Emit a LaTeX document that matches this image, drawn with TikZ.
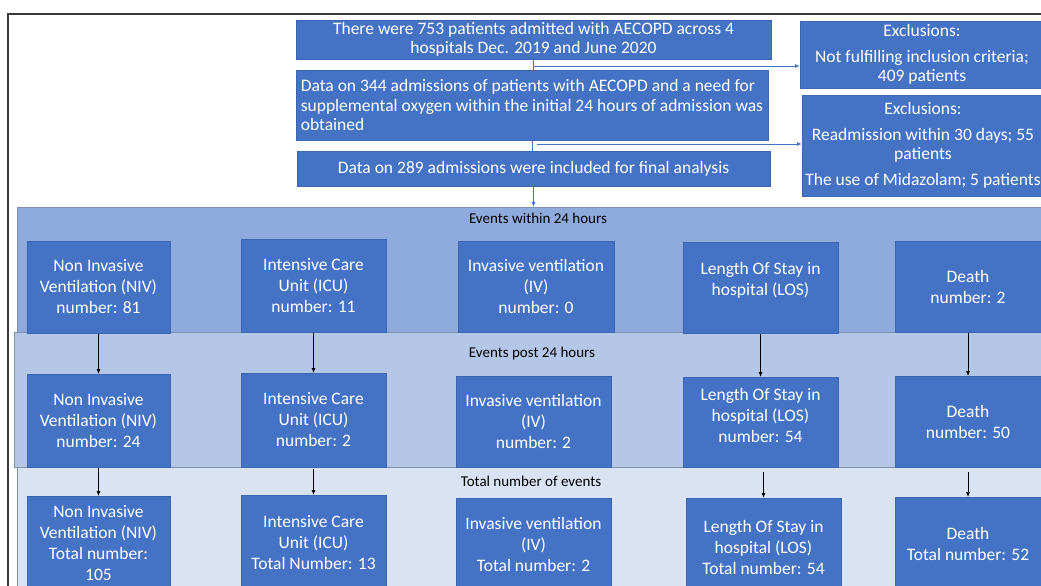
\documentclass[tikz,border=0pt]{standalone}
\usepackage{fontspec}
\setmainfont{Carlito}
\usepackage{tikz}
\usetikzlibrary{arrows.meta}
\definecolor{boxblue}{HTML}{4472C4}
\definecolor{boxline}{HTML}{3D66B2}
\definecolor{bandA}{HTML}{8FAADC}
\definecolor{bandB}{HTML}{B4C7E7}
\definecolor{bandC}{HTML}{DAE3F3}
\definecolor{bandline}{HTML}{7F90AE}
\definecolor{framegray}{HTML}{3A3A3A}

\begin{document}
\begin{tikzpicture}[x=1pt,y=-1pt,
  flowbox/.style={draw=boxline,fill=boxblue,text=white,inner sep=2pt,outer sep=0pt,
    font=\fontsize{17.5}{19.5}\selectfont,align=center},
  evbox/.style={draw=boxline,fill=boxblue,text=white,inner sep=2pt,outer sep=0pt,
    font=\fontsize{17.5}{21}\selectfont,align=center},
  evtext/.style={text=white,inner sep=0pt,font=\fontsize{17.5}{21}\selectfont,align=center},
  band/.style={draw=bandline,line width=0.6pt,inner sep=0pt,outer sep=0pt},
  bandlbl/.style={inner sep=0pt,font=\fontsize{15}{17}\selectfont},
  blueflow/.style={draw=boxblue,line width=0.9pt},
  blueto/.style={blueflow,-{Latex[length=5pt,width=4pt]}},
  evarrow/.style={-{Latex[length=5pt,width=4pt]},line width=0.8pt,shorten <=1pt}]
\clip (0,0) rectangle (1041,586);
\fill[white] (0,0) rectangle (1041,586);
% outer frame
\draw[framegray,line width=1.6pt] (1045,14) -- (8,14) -- (8,590);

% selection of admissions
\node[flowbox,minimum width=475,minimum height=39] (adm) at (533.5,39.5)
  {There were 753 patients admitted with AECOPD across 4\\hospitals Dec. 2019 and June 2020};
\node[flowbox,minimum width=472,minimum height=70,align=left] (dat) at (532,105)
  {Data on 344 admissions of patients with AECOPD and a need for\\supplemental oxygen within the initial 24 hours of admission was\\obtained};
\node[flowbox,minimum width=473,minimum height=35] (fin) at (533.5,168.5)
  {Data on 289 admissions were included for final analysis};
\node[flowbox,minimum width=244,minimum height=67] (exc1) at (922,54.5)
  {Exclusions:\\[6pt]Not fulfilling inclusion criteria;\\409 patients};
\node[flowbox,minimum width=242,minimum height=101] (exc2) at (923,145.5)
  {Exclusions:\\[6pt]Readmission within 30 days; 55\\patients\\[6pt]The use of Midazolam; 5 patients};

\coordinate (br1) at (533.5,66);
\coordinate (br2) at (537,144);
\draw[blueflow] (adm.south) -- (adm.south |- dat.north);
\draw[blueto] (br1) -- (br1 -| exc1.west);
\draw[blueflow] (dat.south) -- (dat.south |- fin.north);
\draw[blueto] (br2) -- (br2 -| exc2.west);

% the three bands
\node[band,fill=bandA,minimum width=1033,minimum height=125] (band1) at (533.5,269.5) {};
\node[band,fill=bandB,minimum width=1036,minimum height=135] (band2) at (532,399.5) {};
\node[band,fill=bandC,minimum width=1033,minimum height=133] (band3) at (533.5,533.5) {};
\draw[blueto] (fin.south) -- (fin.south |- band1.north);
\node[bandlbl] (lbl1) at (538,218) {Events within 24 hours};
\node[bandlbl] (lbl2) at (532,353) {Events post 24 hours};
\node[bandlbl] (lbl3) at (531,481) {Total number of events};

% within 24 hours
\node[evbox,minimum width=143,minimum height=92] (niv1) at (98.5,287)
  {Non Invasive\\Ventilation (NIV)\\number: 81};
\node[evbox,minimum width=145,minimum height=93] (icu1) at (313.5,285.5)
  {Intensive Care\\Unit (ICU)\\number: 11};
\node[evbox,minimum width=156,minimum height=91] (iv1) at (536,286.5)
  {Invasive ventilation\\(IV)\\number: 0};
\node[evbox,minimum width=155,minimum height=91] (los1) at (760.5,287.5) {};
\node[evtext] (los1t) at (760.5,280) {Length Of Stay in\\hospital (LOS)};
\node[evbox,minimum width=146,minimum height=91] (dth1) at (968,286.5)
  {Death\\number: 2};

% post 24 hours
\node[evbox,minimum width=143,minimum height=93] (niv2) at (98.5,420.5)
  {Non Invasive\\Ventilation (NIV)\\number: 24};
\node[evbox,minimum width=145,minimum height=94] (icu2) at (313.5,420)
  {Intensive Care\\Unit (ICU)\\number: 2};
\node[evbox,minimum width=155,minimum height=91] (iv2) at (533.5,421.5)
  {Invasive ventilation\\(IV)\\number: 2};
\node[evbox,minimum width=155,minimum height=90] (los2) at (760.5,422) {};
\node[evtext] (los2t) at (760.5,415) {Length Of Stay in\\hospital (LOS)\\number: 54};
\node[evbox,minimum width=146,minimum height=91] (dth2) at (968,421.5)
  {Death\\number: 50};

% totals
\node[evbox,minimum width=143,minimum height=94] (niv3) at (98.5,543)
  {Non Invasive\\Ventilation (NIV)\\Total number:\\105};
\node[evbox,minimum width=145,minimum height=95] (icu3) at (313.5,542.5)
  {Intensive Care\\Unit (ICU)\\Total Number: 13};
\node[evbox,minimum width=155,minimum height=92] (iv3) at (533.5,544)
  {Invasive ventilation\\(IV)\\Total number: 2};
\node[evbox,minimum width=155,minimum height=98] (los3) at (763.5,547)
  {Length Of Stay in\\hospital (LOS)\\Total number: 54};
\node[evbox,minimum width=146,minimum height=93] (dth3) at (968,543.5)
  {Death\\Total number: 52};

\draw[evarrow] (niv1) -- (niv2);
\draw[evarrow] (icu1) -- (icu2);
\draw[evarrow] (los1) -- (los2);
\draw[evarrow] (dth1) -- (dth2);
\draw[evarrow] (niv2) -- (niv3);
\draw[evarrow,shorten <=2pt] (icu2) -- (icu3);
\draw[evarrow,shorten <=5pt] (los3.north |- los2.south) -- (los3.north);
\draw[evarrow,shorten <=5pt] (dth2) -- (dth3);
\end{tikzpicture}
\end{document}
